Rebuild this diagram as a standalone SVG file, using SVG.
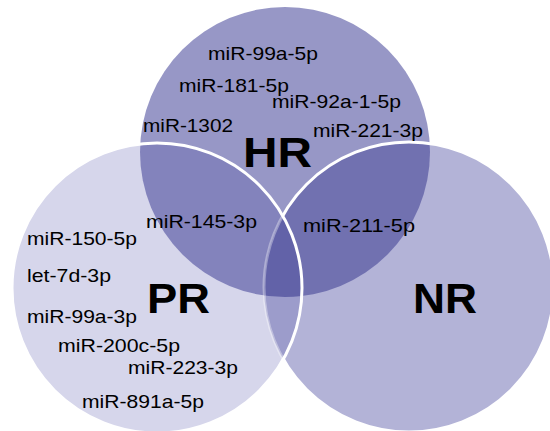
<svg xmlns="http://www.w3.org/2000/svg" width="550" height="431" viewBox="0 0 550 431">
<style>
.t{font-family:"Liberation Sans",Arial,sans-serif;font-size:19px;fill:#000}
.b{font-family:"Liberation Sans",Arial,sans-serif;font-size:42px;font-weight:bold;fill:#000}
.ws{fill:none;stroke:#fff;stroke-width:3}
</style>
<defs>
<clipPath id="cHR"><circle cx="285" cy="152" r="145"/></clipPath>
<clipPath id="cPR"><circle cx="157" cy="288" r="145"/></clipPath>
<mask id="mOutPR" maskUnits="userSpaceOnUse" x="0" y="0" width="550" height="431">
<rect x="0" y="0" width="550" height="431" fill="#fff"/>
<circle cx="157" cy="288" r="145" fill="#000"/>
</mask>
</defs>
<g id="regions">
<circle id="HR-circle" cx="285" cy="152" r="145" fill="#9797C6"/>
<circle id="NR-circle" cx="409" cy="287" r="145" fill="#B3B3D7"/>
<circle id="PR-circle" cx="157" cy="288" r="145" fill="#D6D6EB"/>
<circle cx="409" cy="287" r="145" fill="#7171B0" clip-path="url(#cHR)"/>
<circle cx="157" cy="288" r="145" fill="#8383BC" clip-path="url(#cHR)"/>
<circle cx="409" cy="287" r="145" fill="#9C9CCB" clip-path="url(#cPR)"/>
<g clip-path="url(#cPR)"><circle cx="409" cy="287" r="145" fill="#6262A8" clip-path="url(#cHR)"/></g>
<circle class="ws" cx="409" cy="287" r="145" mask="url(#mOutPR)"/>
<circle class="ws" cx="409" cy="287" r="145" clip-path="url(#cPR)" stroke-opacity="0.35"/>
<circle class="ws" cx="157" cy="288" r="145"/>
</g>
<g id="HR">
<text class="b" x="243" y="167" textLength="69" lengthAdjust="spacingAndGlyphs">HR</text>
<text class="t" x="208" y="60" textLength="110" lengthAdjust="spacingAndGlyphs">miR-99a-5p</text>
<text class="t" x="179" y="92" textLength="110" lengthAdjust="spacingAndGlyphs">miR-181-5p</text>
<text class="t" x="272" y="108" textLength="129" lengthAdjust="spacingAndGlyphs">miR-92a-1-5p</text>
<text class="t" x="143" y="132" textLength="90" lengthAdjust="spacingAndGlyphs">miR-1302</text>
<text class="t" x="313" y="137" textLength="110" lengthAdjust="spacingAndGlyphs">miR-221-3p</text>
</g>
<g id="HR-PR">
<text class="t" x="146" y="228" textLength="111" lengthAdjust="spacingAndGlyphs">miR-145-3p</text>
</g>
<g id="HR-NR">
<text class="t" x="303" y="232" textLength="112" lengthAdjust="spacingAndGlyphs">miR-211-5p</text>
</g>
<g id="PR">
<text class="b" x="147" y="313" textLength="63" lengthAdjust="spacingAndGlyphs">PR</text>
<text class="t" x="27" y="245" textLength="110" lengthAdjust="spacingAndGlyphs">miR-150-5p</text>
<text class="t" x="27" y="282" textLength="84" lengthAdjust="spacingAndGlyphs">let-7d-3p</text>
<text class="t" x="27" y="323" textLength="110" lengthAdjust="spacingAndGlyphs">miR-99a-3p</text>
<text class="t" x="58" y="352" textLength="122" lengthAdjust="spacingAndGlyphs">miR-200c-5p</text>
<text class="t" x="128" y="374" textLength="110" lengthAdjust="spacingAndGlyphs">miR-223-3p</text>
<text class="t" x="82" y="408" textLength="122" lengthAdjust="spacingAndGlyphs">miR-891a-5p</text>
</g>
<g id="NR">
<text class="b" x="413" y="313" textLength="64" lengthAdjust="spacingAndGlyphs">NR</text>
</g>
</svg>
